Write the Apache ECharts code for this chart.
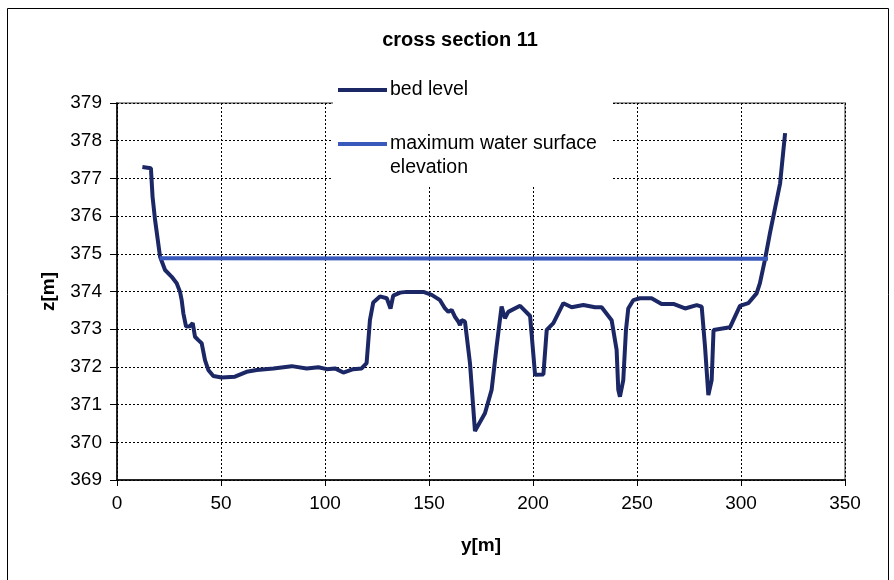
<!DOCTYPE html>
<html><head><meta charset="utf-8">
<script src="https://cdn.jsdelivr.net/npm/echarts@6/dist/echarts.min.js"></script>
<style>html,body{margin:0;padding:0;background:#fff}#c{width:894px;height:580px}</style>
</head><body><div id="c"></div>
<script>
const titleText = 'cross section 11';
const xName = 'y[m]';
const yName = 'z[m]';
const bedName = 'bed level';
const waterName = 'maximum water surface';
const waterName2 = 'elevation';
const xTicks = [0, 50, 100, 150, 200, 250, 300, 350];
const yTicks = [369, 370, 371, 372, 373, 374, 375, 376, 377, 378, 379];

const bedX = [12.2, 16.3, 17.1, 18.3, 20.7, 23.1, 26.3, 28.7, 30.3, 31.1, 31.9, 33.2, 35.1, 36.4, 37.5, 39.1, 40.7, 42.3, 43.9, 46.3, 50.3, 56.7, 62.3, 67.2, 75.2, 84.0, 91.2, 96.8, 100.8, 104.8, 108.8, 113.6, 117.6, 120.0, 121.6, 123.2, 126.4, 129.7, 131.5, 132.8, 136.1, 139.3, 147.3, 151.3, 155.3, 157.7, 159.3, 160.9, 162.5, 164.1, 164.9, 165.7, 167.3, 169.7, 172.1, 176.9, 180.1, 182.5, 184.9, 186.5, 188.1, 193.8, 198.6, 201.0, 205.0, 206.6, 209.8, 214.6, 218.6, 224.2, 229.8, 233.0, 237.8, 240.2, 241.0, 241.8, 243.4, 244.7, 245.8, 248.2, 251.4, 257.0, 261.8, 267.5, 273.1, 278.7, 281.1, 282.7, 284.3, 285.9, 286.8, 294.7, 299.5, 303.5, 307.5, 309.1, 311.5, 313.9, 318.8, 321.2];
const bedZ = [377.30, 377.27, 376.51, 375.90, 374.92, 374.57, 374.39, 374.22, 373.99, 373.77, 373.42, 373.07, 373.08, 373.16, 372.80, 372.71, 372.63, 372.18, 371.92, 371.76, 371.72, 371.74, 371.87, 371.92, 371.96, 372.02, 371.96, 371.99, 371.94, 371.96, 371.85, 371.94, 371.96, 372.10, 373.24, 373.71, 373.87, 373.82, 373.55, 373.89, 373.97, 373.99, 373.99, 373.91, 373.77, 373.55, 373.46, 373.51, 373.33, 373.20, 373.11, 373.24, 373.20, 372.10, 370.30, 370.77, 371.39, 372.54, 373.60, 373.29, 373.46, 373.62, 373.35, 371.79, 371.80, 372.98, 373.16, 373.69, 373.58, 373.64, 373.58, 373.58, 373.24, 372.45, 371.39, 371.21, 371.65, 372.98, 373.55, 373.77, 373.82, 373.82, 373.67, 373.67, 373.55, 373.64, 373.60, 372.54, 371.25, 371.65, 372.98, 373.05, 373.62, 373.69, 373.95, 374.22, 374.84, 375.54, 376.87, 378.20];
const waterX = [20.5, 313.0];
const waterZ = [374.88, 374.87];

const bedData = bedX.map((x, i) => [x, bedZ[i]]);
const waterData = waterX.map((x, i) => [x, waterZ[i]]);

const FONT = '"Liberation Sans", Arial, sans-serif';
const chart = echarts.init(document.getElementById('c'));
chart.setOption({
  animation: false,
  backgroundColor: '#fff',
  title: {
    text: titleText, left: 455, textAlign: 'center', top: 25,
    textStyle: { fontFamily: FONT, fontSize: 20, fontWeight: 'bold', color: '#000' }
  },
  grid: { left: 117, right: 49, top: 103, bottom: 100, show: true, borderColor: '#9a9a9a', borderWidth: 2, backgroundColor: '#fff' },
  xAxis: {
    type: 'value', min: xTicks[0], max: xTicks[xTicks.length - 1], interval: 50,
    name: xName, nameLocation: 'middle', nameGap: 56, nameMoveOverlap: false,
    nameTextStyle: { fontFamily: FONT, fontSize: 19, fontWeight: 'bold', color: '#000' },
    axisLine: { lineStyle: { color: '#000', width: 1.5 } },
    axisTick: { show: true, length: 6, lineStyle: { color: '#000' } },
    axisLabel: { fontFamily: FONT, fontSize: 19, color: '#000', margin: 14 },
    splitLine: { show: true, lineStyle: { color: '#000', type: [2, 2], width: 1 } }
  },
  yAxis: {
    type: 'value', min: yTicks[0], max: yTicks[yTicks.length - 1], interval: 1,
    name: yName, nameLocation: 'middle', nameGap: 59, nameRotate: 90, nameMoveOverlap: false,
    nameTextStyle: { fontFamily: FONT, fontSize: 19, fontWeight: 'bold', color: '#000' },
    axisLine: { show: true, lineStyle: { color: '#000', width: 1.5 } },
    axisTick: { show: true, length: 7, lineStyle: { color: '#000' } },
    axisLabel: { fontFamily: FONT, fontSize: 19, color: '#000', margin: 15 },
    splitLine: { show: true, lineStyle: { color: '#000', type: [2, 2], width: 1 } }
  },
  legend: {
    orient: 'vertical', left: 338, top: 80, itemGap: 34, padding: 0,
    itemWidth: 49, itemHeight: 4, icon: 'rect',
    textStyle: { fontFamily: FONT, fontSize: 19.5, lineHeight: 20, color: '#000', padding: [0, 0, 0, -2] },
    data: [bedName, waterName]
  },
  graphic: [
    { type: 'rect', z: 3, shape: { x: 333, y: 68, width: 280, height: 118 }, style: { fill: '#fff', stroke: null } },
    { type: 'text', z: 5, style: { x: 390, y: 168, text: waterName2, font: '19.5px ' + FONT, fill: '#000', textVerticalAlign: 'middle' } },
    { type: 'rect', z: 10, silent: true, shape: { x: 7.5, y: 8.5, width: 881, height: 600 }, style: { fill: null, stroke: '#000', lineWidth: 1 } }
  ],
  series: [
    { name: bedName, type: 'line', data: bedData, showSymbol: false, symbol: 'none', smooth: false,
      lineStyle: { color: '#1c2766', width: 4 }, itemStyle: { color: '#1c2766' }, z: 2 },
    { name: waterName, type: 'line', data: waterData, showSymbol: false, symbol: 'none',
      lineStyle: { color: '#3a59bd', width: 4 }, itemStyle: { color: '#3a59bd' }, z: 2 }
  ]
});
</script></body></html>
